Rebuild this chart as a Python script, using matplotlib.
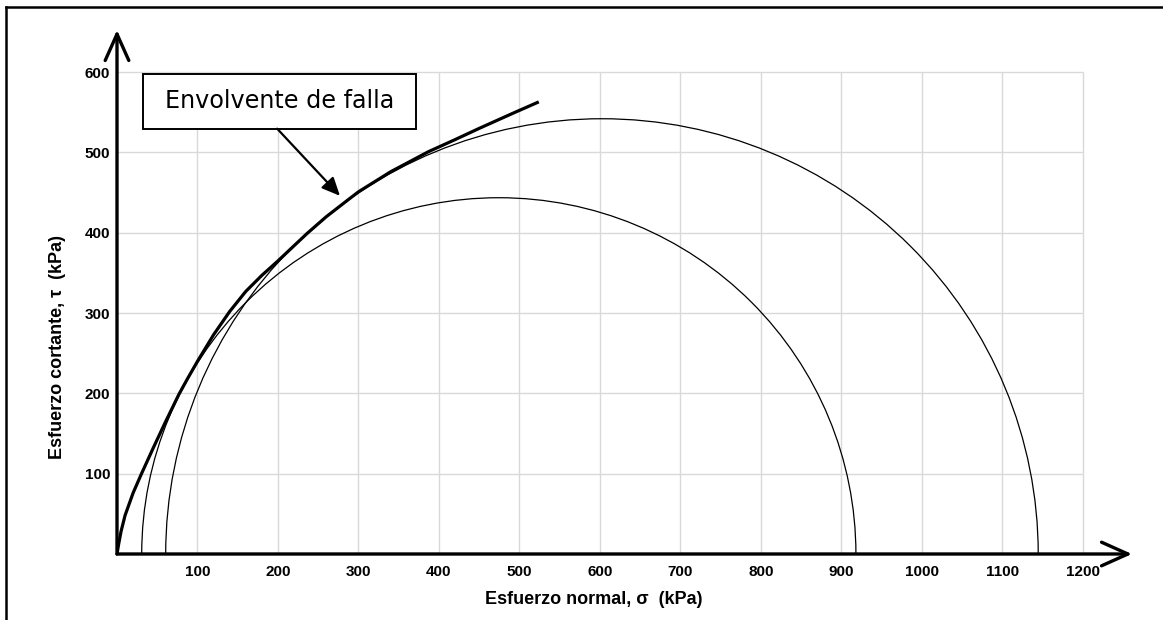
import matplotlib
matplotlib.use("Agg")
import matplotlib.pyplot as plt
from matplotlib.patches import Arc, Rectangle
from matplotlib.lines import Line2D

# Círculos de Mohr (esfuerzos principales, kPa)
sigma3 = [30.7, 60.5]
sigma1 = [918.0, 1144.5]

# Envolvente de falla
env_sigma = [0, 2, 5, 10, 20, 30, 45, 60, 77, 88, 100, 120, 140, 160, 180, 200,
             236, 260, 287, 300, 340, 387, 420, 450, 490, 524]
env_tau = [0, 12, 28, 48, 76, 99, 132, 164, 199, 219, 240, 273, 302, 327, 347, 365,
           399, 420, 441, 451, 476, 501, 516, 530, 548, 563]

xticks = [100, 200, 300, 400, 500, 600, 700, 800, 900, 1000, 1100, 1200]
yticks = [100, 200, 300, 400, 500, 600]

W, H = 1163, 620
fig = plt.figure(figsize=(W / 100, H / 100), dpi=100)
ax = fig.add_axes([117 / W, 1 - 554 / H, (1132 - 117) / W, (554 - 30) / H])
ax.set_xlim(0, 1261)
ax.set_ylim(0, 652.5)
for s in ax.spines.values():
    s.set_visible(False)

# rejilla limitada a 0..1200 x 0..600
ax.vlines(xticks, 0, 600, color="#d9d9d9", lw=1.0, zorder=0)
ax.hlines(yticks, 0, 1200, color="#d9d9d9", lw=1.0, zorder=0)

ax.set_xticks(xticks)
ax.set_yticks(yticks)
ax.tick_params(length=0)
ax.tick_params(axis="x", pad=8)
ax.tick_params(axis="y", pad=5)
for lab in ax.get_xticklabels() + ax.get_yticklabels():
    lab.set_fontfamily("Liberation Sans")
    lab.set_fontweight("bold")
    lab.set_fontsize(11)

# círculos
for s3, s1 in zip(sigma3, sigma1):
    c = (s1 + s3) / 2
    d = s1 - s3
    ax.add_patch(Arc((c, 0), d, d, theta1=0, theta2=180, color="black", lw=0.9, zorder=2))

# envolvente
ax.plot(env_sigma, env_tau, color="black", lw=2.3, solid_capstyle="butt",
        solid_joinstyle="round", zorder=3)

# ejes con flechas
arrow = dict(arrowstyle="->,head_length=1.9,head_width=0.85", lw=2.4, color="black",
             shrinkA=0, shrinkB=0)
ax.annotate("", xy=(1261, 0), xytext=(0, 0), arrowprops=arrow, annotation_clip=False, zorder=4)
ax.annotate("", xy=(0, 652.5), xytext=(0, 0), arrowprops=arrow, annotation_clip=False, zorder=4)

# etiqueta de la envolvente
ax.add_patch(Rectangle((32.3, 529.6), 339.1, 68.2, fc="white", ec="black", lw=1.4, zorder=5))
ax.text(202, 564, "Envolvente de falla", fontsize=17.2, family="DejaVu Sans",
        ha="center", va="center", zorder=6)
ax.annotate("", xy=(277, 446), xytext=(199, 529.6),
            arrowprops=dict(arrowstyle="-|>,head_length=1.1,head_width=0.5", lw=1.6,
                            color="black", shrinkA=0, shrinkB=0),
            zorder=5)

fig.text(594 / W, 1 - 600 / H, "Esfuerzo normal, σ  (kPa)", ha="center", va="center",
         family="Liberation Sans", fontweight="bold", fontsize=13)
fig.text(57 / W, 1 - 347 / H, "Esfuerzo cortante, τ  (kPa)", ha="center", va="center",
         rotation=90, family="Liberation Sans", fontweight="bold", fontsize=13)

# marco
fig.add_artist(Line2D([6 / W, 6 / W], [0, 1 - 7 / H], color="black", lw=1.8))
fig.add_artist(Line2D([6 / W, 1], [1 - 7 / H, 1 - 7 / H], color="black", lw=1.8))

fig.savefig("out.png", dpi=100)
